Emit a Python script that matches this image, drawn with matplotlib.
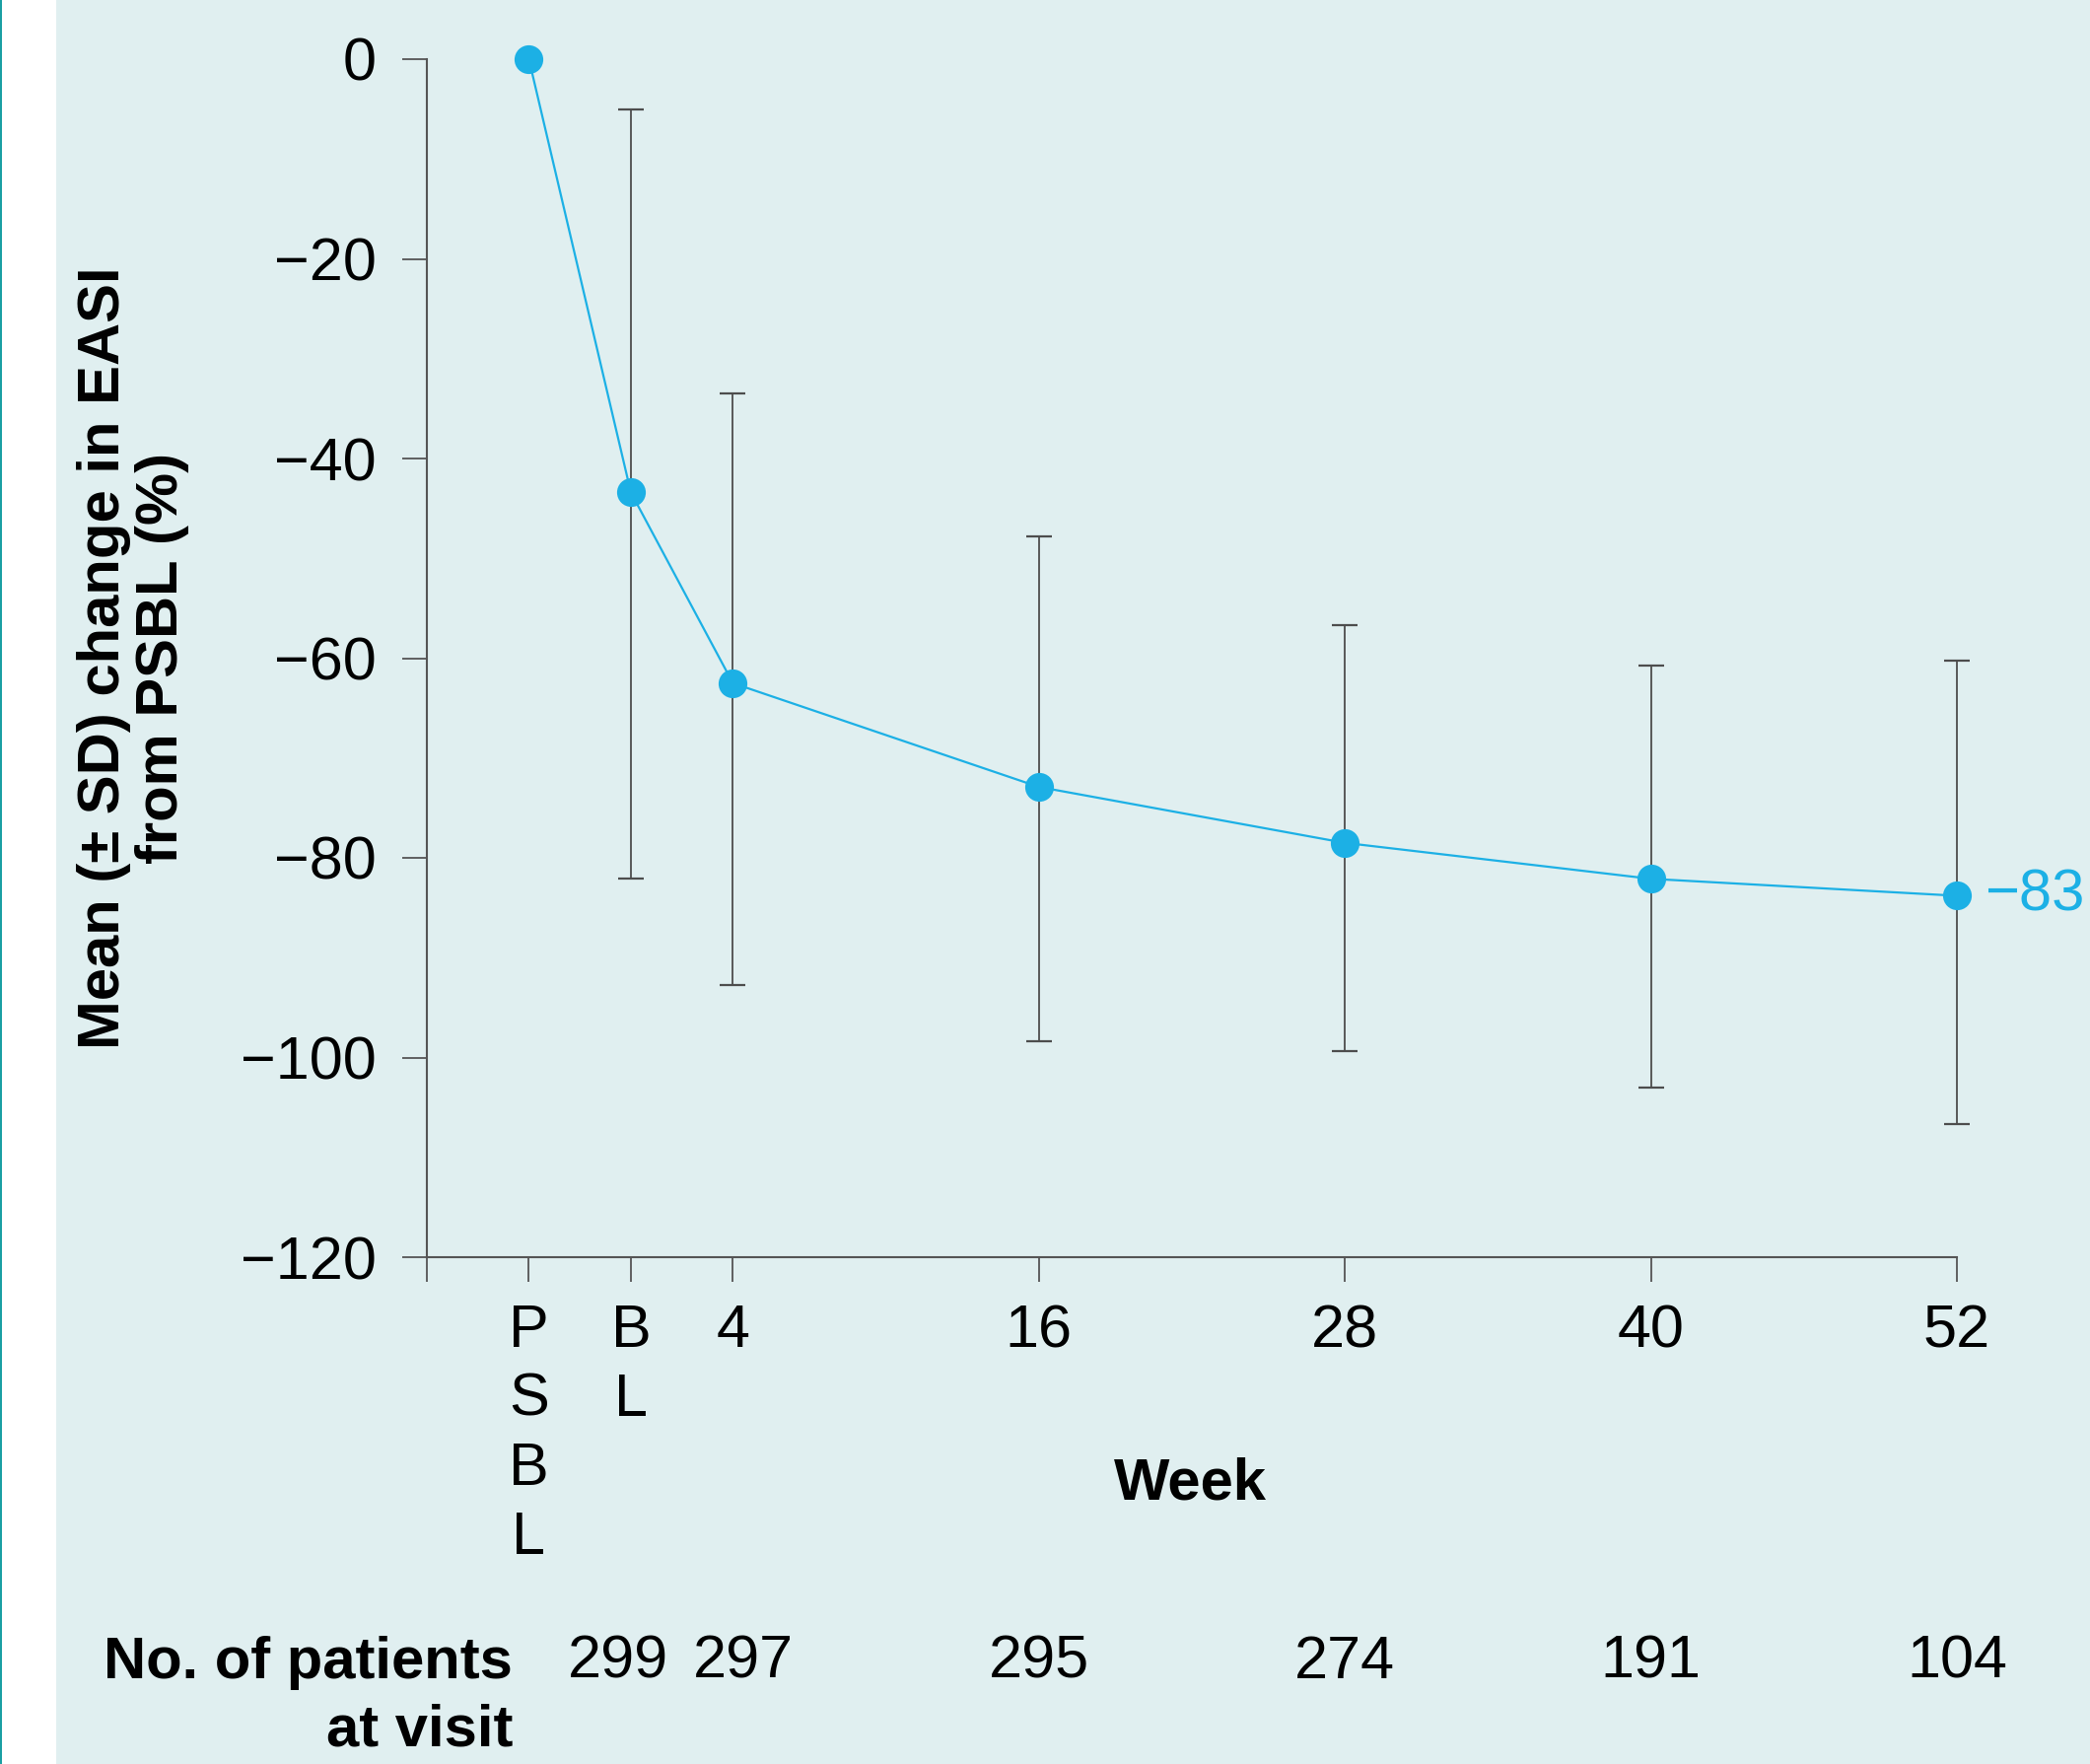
import numpy as np
import matplotlib.pyplot as plt
from matplotlib.patches import Rectangle

plt.rcParams['font.family'] = ['Liberation Sans', 'DejaVu Sans']

# data
weeks = [-4, 0, 4, 16, 28, 40, 52]
tick_labels = ["P\nS\nB\nL", "B\nL", "4", "16", "28", "40", "52"]
mean_change = [0.0, -43.4, -62.5, -72.9, -78.5, -82.1, -83.8]
sd_upper = [None, -5.0, -33.5, -47.8, -56.7, -60.7, -60.2]
sd_lower = [None, -82.1, -92.7, -98.4, -99.4, -103.0, -106.7]
patients = [299, 297, 295, 274, 191, 104]
patient_weeks = [0, 4, 16, 28, 40, 52]
patient_nudge = [-0.5, 0.4, 0, 0, 0, 0]
end_label = "\u221283"

blue = "#1CB0E5"
bg = "#E0EFF0"
axis_col = "#555555"
fs = 44

W, H = 2120, 1789
fig = plt.figure(figsize=(W / 100, H / 100), dpi=100)
fig.patch.set_facecolor("white")
fig.patches.append(Rectangle((57 / W, 0), 1 - 57 / W, 1, transform=fig.transFigure,
                             facecolor=bg, edgecolor="none", zorder=-10))
fig.patches.append(Rectangle((0, 0), 2 / W, 1, transform=fig.transFigure,
                             facecolor="#1A9FA3", edgecolor="none", zorder=-9))

ax = fig.add_axes([433 / W, 1 - 1275 / H, (1985 - 433) / W, (1275 - 60) / H])
ax.set_facecolor("none")

# error bars (SD)
ex = np.array(weeks[1:])
em = np.array(mean_change[1:])
eu = np.array(sd_upper[1:])
el = np.array(sd_lower[1:])
ax.errorbar(ex, em, yerr=[em - el, eu - em], fmt="none", ecolor="#4d4d4d",
            elinewidth=1.3, capsize=9.5, capthick=1.6, zorder=2, clip_on=False)

ax.plot(weeks, mean_change, color=blue, lw=1.6, marker="o", ms=21,
        markeredgewidth=0, zorder=3, clip_on=False)

ax.text(weeks[-1] + 1.1, mean_change[-1], end_label, color=blue, fontsize=fs - 1,
        ha="left", va="center")

ax.set_xlim(-8, 52)
ax.set_ylim(-120, 0)
ax.set_yticks(np.arange(-120, 1, 20))
ax.set_yticklabels([("\u2212%d" % -v) if v < 0 else "0" for v in np.arange(-120, 1, 20)])
ax.set_xticks([-8] + weeks)
ax.set_xticklabels([""] + tick_labels, linespacing=1.29)

for s in ["top", "right"]:
    ax.spines[s].set_visible(False)
for s in ["left", "bottom"]:
    ax.spines[s].set_color(axis_col)
    ax.spines[s].set_linewidth(1.5)
ax.tick_params(axis="both", direction="out", length=18, width=1.3, color=axis_col,
               labelsize=fs)
ax.tick_params(axis="y", pad=19)
ax.tick_params(axis="x", pad=16)
for lab in ax.get_xticklabels():
    lab.set_va("top")

ax.set_ylabel("Mean (\u00b1 SD) change in EASI\nfrom PSBL (%)", fontsize=fs - 1,
              fontweight="bold", linespacing=1.1)
ax.yaxis.set_label_coords(-0.155, 0.5)

fig.text(1207 / W, 1 - 1505 / H, "Week", fontsize=fs - 1, fontweight="bold",
         ha="center", va="center")

# patients at visit
trans = ax.get_xaxis_transform()
row_y = -(1686 - 1275) / (1275 - 60)
for w, n, d in zip(patient_weeks, patients, patient_nudge):
    ax.text(w + d, row_y, str(n), transform=trans, fontsize=fs, ha="center",
            va="center", clip_on=False)
fig.text(520 / W, 1 - 1686 / H, "No. of patients", fontsize=fs - 1, fontweight="bold",
         ha="right", va="center")
fig.text(520 / W, 1 - 1755 / H, "at visit", fontsize=fs - 1, fontweight="bold",
         ha="right", va="center")

fig.savefig("out.png", dpi=100, facecolor=fig.get_facecolor())
